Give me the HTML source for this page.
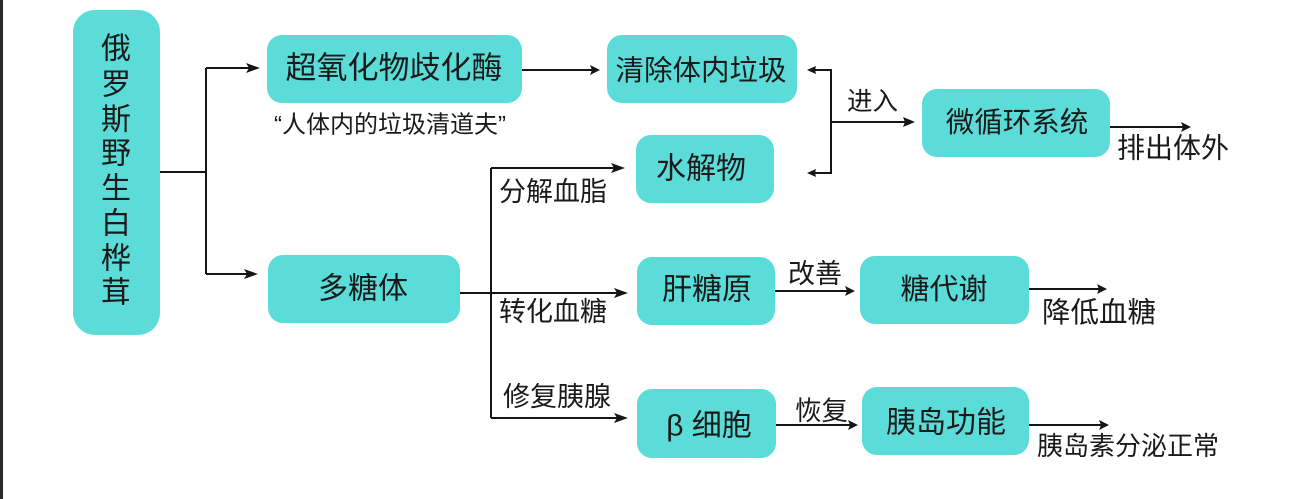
<!DOCTYPE html>
<html>
<head>
<meta charset="utf-8">
<style>
html,body{margin:0;padding:0;background:#fff;}
svg{display:block;}
text{font-family:"Liberation Sans","Noto Sans CJK SC",sans-serif;fill:#1a1a1a;}
</style>
</head>
<body>
<svg width="1303" height="499" viewBox="0 0 1303 499" xmlns="http://www.w3.org/2000/svg">
<rect x="0" y="0" width="1303" height="499" fill="#ffffff"/>
<rect x="0" y="0" width="3" height="499" fill="#2b2b2b"/>

<!-- boxes -->
<g fill="#5cdcd8">
<rect x="73" y="10" width="87" height="325" rx="22"/>
<rect x="267" y="35" width="255" height="68" rx="15"/>
<rect x="607" y="35" width="190" height="68" rx="15"/>
<rect x="636" y="135" width="138" height="68" rx="15"/>
<rect x="922" y="89" width="188" height="68" rx="15"/>
<rect x="268" y="255" width="192" height="68" rx="15"/>
<rect x="637" y="257" width="138" height="68" rx="15"/>
<rect x="860" y="256" width="169" height="68" rx="15"/>
<rect x="637" y="389" width="139" height="69" rx="15"/>
<rect x="862" y="387" width="167" height="68" rx="15"/>
</g>

<!-- main vertical text -->
<g font-size="30" text-anchor="middle" dominant-baseline="central">
<text x="116" y="49">俄</text>
<text x="116" y="85">罗</text>
<text x="116" y="120">斯</text>
<text x="116" y="154">野</text>
<text x="116" y="189">生</text>
<text x="116" y="224">白</text>
<text x="116" y="259">桦</text>
<text x="116" y="293">茸</text>
</g>

<!-- box texts -->
<g text-anchor="middle" dominant-baseline="central">
<text x="394" y="68" font-size="31">超氧化物歧化酶</text>
<text x="701" y="71" font-size="28.5">清除体内垃圾</text>
<text x="701" y="169" font-size="30">水解物</text>
<text x="1017" y="123" font-size="28.5">微循环系统</text>
<text x="363" y="289" font-size="30">多糖体</text>
<text x="707" y="290" font-size="30">肝糖原</text>
<text x="944" y="290" font-size="29">糖代谢</text>
<text x="709" y="426" font-size="30">β 细胞</text>
<text x="946" y="423" font-size="30">胰岛功能</text>
</g>

<!-- labels -->
<g dominant-baseline="central">
<text x="274" y="125" font-size="24">“人体内的垃圾清道夫”</text>
<text x="499" y="192" font-size="27">分解血脂</text>
<text x="499" y="312" font-size="27">转化血糖</text>
<text x="503" y="397" font-size="27">修复胰腺</text>
<text x="788" y="274" font-size="27">改善</text>
<text x="795" y="411" font-size="26.5">恢复</text>
<text x="847" y="102" font-size="25.5">进入</text>
<text x="1117" y="148" font-size="28">排出体外</text>
<text x="1042" y="313" font-size="28.5">降低血糖</text>
<text x="1037" y="446" font-size="26">胰岛素分泌正常</text>
</g>

<!-- lines -->
<g stroke="#151515" stroke-width="2" fill="none">
<path d="M160 172 H206"/>
<path d="M206 68 V274"/>
<path d="M206 68 H250"/>
<path d="M206 274 H248"/>
<path d="M522 70 H592"/>
<path d="M460 293 H491"/>
<path d="M491 168 V418"/>
<path d="M491 168 H615"/>
<path d="M491 293 H618"/>
<path d="M491 418 H618"/>
<path d="M812 70 H831 V173 H812"/>
<path d="M831 122 H905"/>
<path d="M1110 127 H1183"/>
<path d="M775 291 H847"/>
<path d="M1029 289 H1099"/>
<path d="M776 425 H850"/>
<path d="M1029 425 H1101"/>
</g>

<!-- arrowheads -->
<g fill="#151515">
<polygon points="260,68 246,63 249,68 246,73"/>
<polygon points="258,274 244,269 247,274 244,279"/>
<polygon points="600,70 590,65 592,70 590,75"/>
<polygon points="625,168 611,163 614,168 611,173"/>
<polygon points="628,293 614,288 617,293 614,298"/>
<polygon points="628,418 614,413 617,418 614,423"/>
<polygon points="807,70 816,66 815,70 816,74"/>
<polygon points="807,173 816,169 815,173 816,177"/>
<polygon points="915,122 903,117 905,122 903,127"/>
<polygon points="1191,127 1181,122 1183,127 1181,132"/>
<polygon points="855,291 845,286 847,291 845,296"/>
<polygon points="1107,289 1097,284 1099,289 1097,294"/>
<polygon points="858,425 848,420 850,425 848,430"/>
<polygon points="1109,425 1099,420 1101,425 1099,430"/>
</g>
</svg>
</body>
</html>
